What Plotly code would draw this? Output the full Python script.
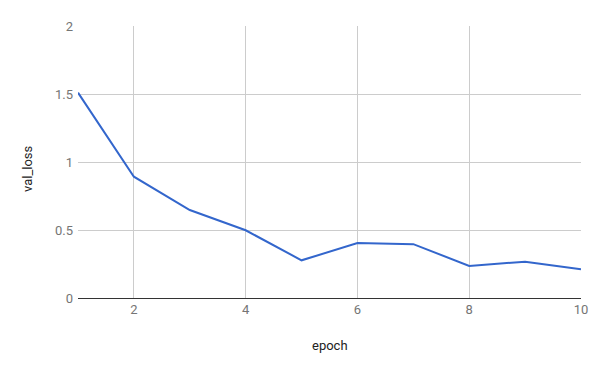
import plotly.graph_objects as go

epochs = [1, 2, 3, 4, 5, 6, 7, 8, 9, 10]
val_loss = [1.51, 0.892, 0.647, 0.498, 0.277, 0.404, 0.396, 0.236, 0.267, 0.211]
x_ticks = [2, 4, 6, 8, 10]
y_ticks = [0, 0.5, 1, 1.5, 2]
y_tick_labels = ["0", "0.5", "1", "1.5", "2"]

W, H = 600, 371
L, R, T, B = 78, 19, 26, 73

fig = go.Figure()
fig.add_trace(go.Scatter(x=epochs, y=val_loss, mode="lines",
                         line=dict(color="#3366cc", width=2), showlegend=False))

font = dict(family="Roboto, Arial, sans-serif", size=13, color="#757575")
fig.update_layout(
    width=W, height=H,
    margin=dict(l=L, r=R, t=T, b=B),
    paper_bgcolor="white", plot_bgcolor="white",
    font=font,
    xaxis=dict(range=[1, 10], tickvals=x_ticks, showgrid=True, gridcolor="#cccccc",
               gridwidth=1, zeroline=False, showline=False, ticks="", tickfont=font,
               ticklabelstandoff=2),
    yaxis=dict(range=[0, 2], tickvals=y_ticks, ticktext=y_tick_labels, showgrid=True,
               gridcolor="#cccccc", gridwidth=1, zeroline=True, zerolinecolor="#333333",
               zerolinewidth=1, showline=False, ticks="", tickfont=font,
               ticklabelstandoff=4),
    annotations=[
        dict(text="epoch", xref="paper", yref="paper", x=0.5,
             y=-(345 - (H - B)) / (H - T - B), showarrow=False,
             font=dict(family="Roboto, Arial, sans-serif", size=13, color="#222222"),
             xanchor="center", yanchor="middle"),
        dict(text="val_loss", xref="paper", yref="paper",
             x=-(L - 27) / (W - L - R), y=((H - B) - 169) / (H - T - B),
             showarrow=False, textangle=-90,
             font=dict(family="Roboto, Arial, sans-serif", size=13, color="#222222"),
             xanchor="center", yanchor="middle"),
    ],
)

fig.write_html("out.html")
